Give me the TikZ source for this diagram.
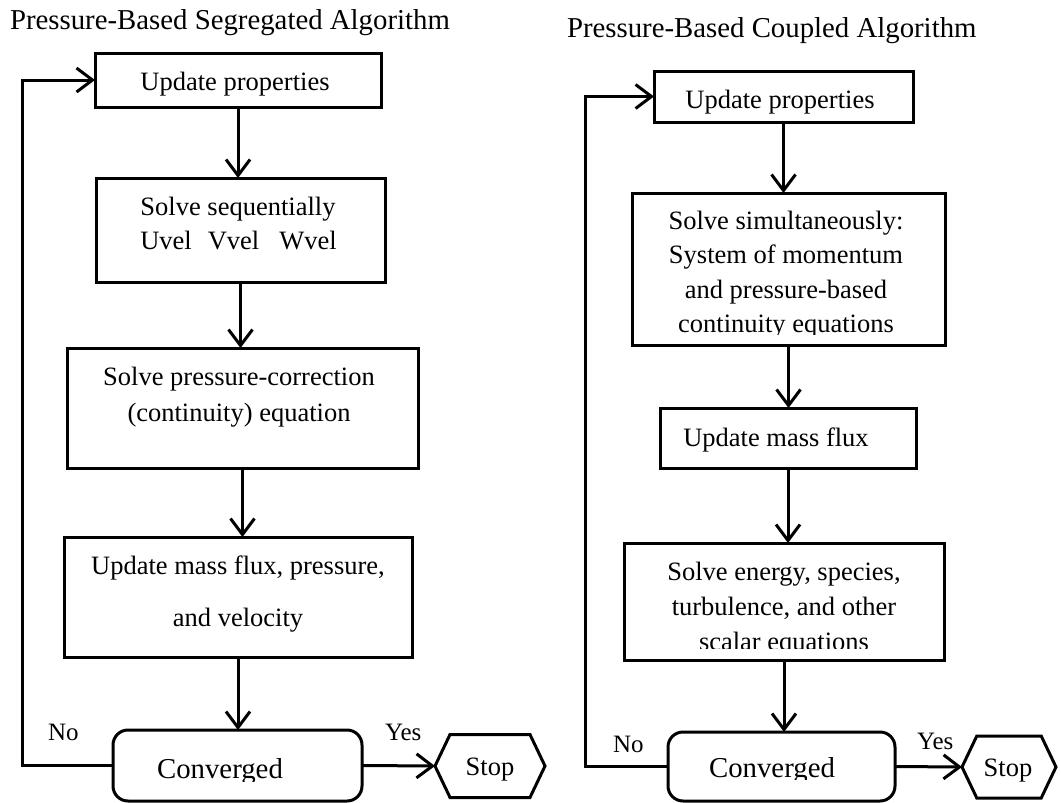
\documentclass[tikz,border=0pt]{standalone}
\usepackage{fontspec}
\setmainfont{Liberation Serif}
\usetikzlibrary{arrows.meta,shapes.symbols}

\tikzset{
  flowline/.style={line width=3pt},
  flowarrow/.style={flowline, -{Straight Barb[length=16pt,width=24pt]}},
  procbox/.style={draw, line width=3pt, rectangle, inner sep=0pt, outer sep=0pt},
  testbox/.style={procbox, rounded corners=15pt},
  endbox/.style={draw, line width=3pt, signal, signal to=east and west,
    signal pointer angle=129, inner sep=0pt, outer sep=0pt},
  bodytext/.style={inner sep=0pt, outer sep=0pt, anchor=base,
    font=\fontsize{26.5}{32}\selectfont},
  bigtext/.style={bodytext, font=\fontsize{28.8}{34}\selectfont},
  headtext/.style={bigtext, anchor=base west},
  answer/.style={inner sep=0pt, outer sep=0pt, anchor=base west,
    font=\fontsize{25}{30}\selectfont},
}

\begin{document}
\begin{tikzpicture}[x=1pt,y=-1pt]
\useasboundingbox (0,0) rectangle (1061,803);

% ---------------- Segregated algorithm ----------------
\node[headtext] (Lhead) at (10,29) {Pressure-Based Segregated Algorithm};

\node[procbox, minimum width=286pt, minimum height=54pt]  (L1) at (238,80) {};
\node[procbox, minimum width=289pt, minimum height=104pt] (L2) at (240.5,230) {};
\node[procbox, minimum width=351pt, minimum height=120pt] (L3) at (242.5,408) {};
\node[procbox, minimum width=348pt, minimum height=120pt] (L4) at (238,597) {};
\node[testbox, minimum width=249pt, minimum height=71pt]  (LC) at (237.5,765.5) {};
\node[endbox,  minimum width=110pt, minimum height=63pt]  (LS) at (490,766) {};

\node[bodytext] (L1t) at (235,90) {Update properties};
\node[bodytext] (L2a) at (238,215) {Solve sequentially};
\node[bodytext] (L2b) at (238.5,249) {Uvel\hspace{16pt}Vvel\hspace{20pt}Wvel};
\node[bodytext] (L3a) at (239,385) {Solve pressure-correction};
\node[bodytext] (L3b) at (239,421) {(continuity) equation};
\node[bodytext] (L4a) at (238,574) {Update mass flux, pressure,};
\node[bodytext] (L4b) at (238,626) {and velocity};
\begin{scope}
  \clip (120,735) rectangle (355,781);
  \node[bigtext] (LCt) at (220,778) {Converged};
\end{scope}
\node[bodytext] (LSt) at (490,775.5) {Stop};
\node[answer] (Lno)  at (48,740)  {No};
\node[answer] (Lyes) at (385,740) {Yes};

\coordinate (Lloop) at (22,0);
\draw[flowarrow] (L1.south) -- (L1.south |- L2.north);
\draw[flowarrow] (L2.south) -- (L2.south |- L3.north);
\draw[flowarrow] (L3.south) -- (L3.south |- L4.north);
\draw[flowarrow] (L4.south) -- (L4.south |- LC.north);
\draw[flowarrow] (LC.east) -- (LS.west);
\draw[flowarrow] (LC.west) -- (LC.west -| Lloop) |- (L1.west);

% ---------------- Coupled algorithm ----------------
\node[headtext] (Rhead) at (567,37) {Pressure-Based Coupled Algorithm};

\node[procbox, minimum width=259pt, minimum height=51pt]  (R1) at (783.5,96.5) {};
\node[procbox, minimum width=313pt, minimum height=152pt] (R2) at (788.5,269) {};
\node[procbox, minimum width=256pt, minimum height=60pt]  (R3) at (788,438) {};
\node[procbox, minimum width=320pt, minimum height=117pt] (R4) at (784,601.5) {};
\node[testbox, minimum width=227pt, minimum height=69pt]  (RC) at (781.5,766.5) {};
\node[endbox,  minimum width=94pt,  minimum height=62pt]  (RS) at (1009,767) {};

\node[bodytext] (R1t) at (780,108) {Update properties};
\node[bodytext] (R2a) at (786,229) {Solve simultaneously:};
\node[bodytext] (R2b) at (786,263) {System of momentum};
\node[bodytext] (R2c) at (786,298) {and pressure-based};
\begin{scope}
  \clip (640,300) rectangle (935,334);
  \node[bodytext] (R2d) at (786,332.5) {continuity equations};
\end{scope}
\node[bodytext] (R3t) at (776,446) {Update mass flux};
\node[bodytext] (R4a) at (784,580) {Solve energy, species,};
\node[bodytext] (R4b) at (784,615) {turbulence, and other};
\begin{scope}
  \clip (640,620) rectangle (935,648.5);
  \node[bodytext] (R4c) at (784,650) {scalar equations};
\end{scope}
\begin{scope}
  \clip (680,735) rectangle (890,779.5);
  \node[bigtext] (RCt) at (772,777) {Converged};
\end{scope}
\node[bodytext] (RSt) at (1008,776.5) {Stop};
\node[answer] (Rno)  at (613,752) {No};
\node[answer] (Ryes) at (917,749) {Yes};

\coordinate (Rloop) at (585,0);
\draw[flowarrow] (R1.south) -- (R1.south |- R2.north);
\draw[flowarrow] (R2.south) -- (R2.south |- R3.north);
\draw[flowarrow] (R3.south) -- (R3.south |- R4.north);
\draw[flowarrow] (R4.south) -- (R4.south |- RC.north);
\draw[flowarrow] (RC.east) -- (RS.west);
\draw[flowarrow] (RC.west) -- (RC.west -| Rloop) |- (R1.west);
\end{tikzpicture}
\end{document}
